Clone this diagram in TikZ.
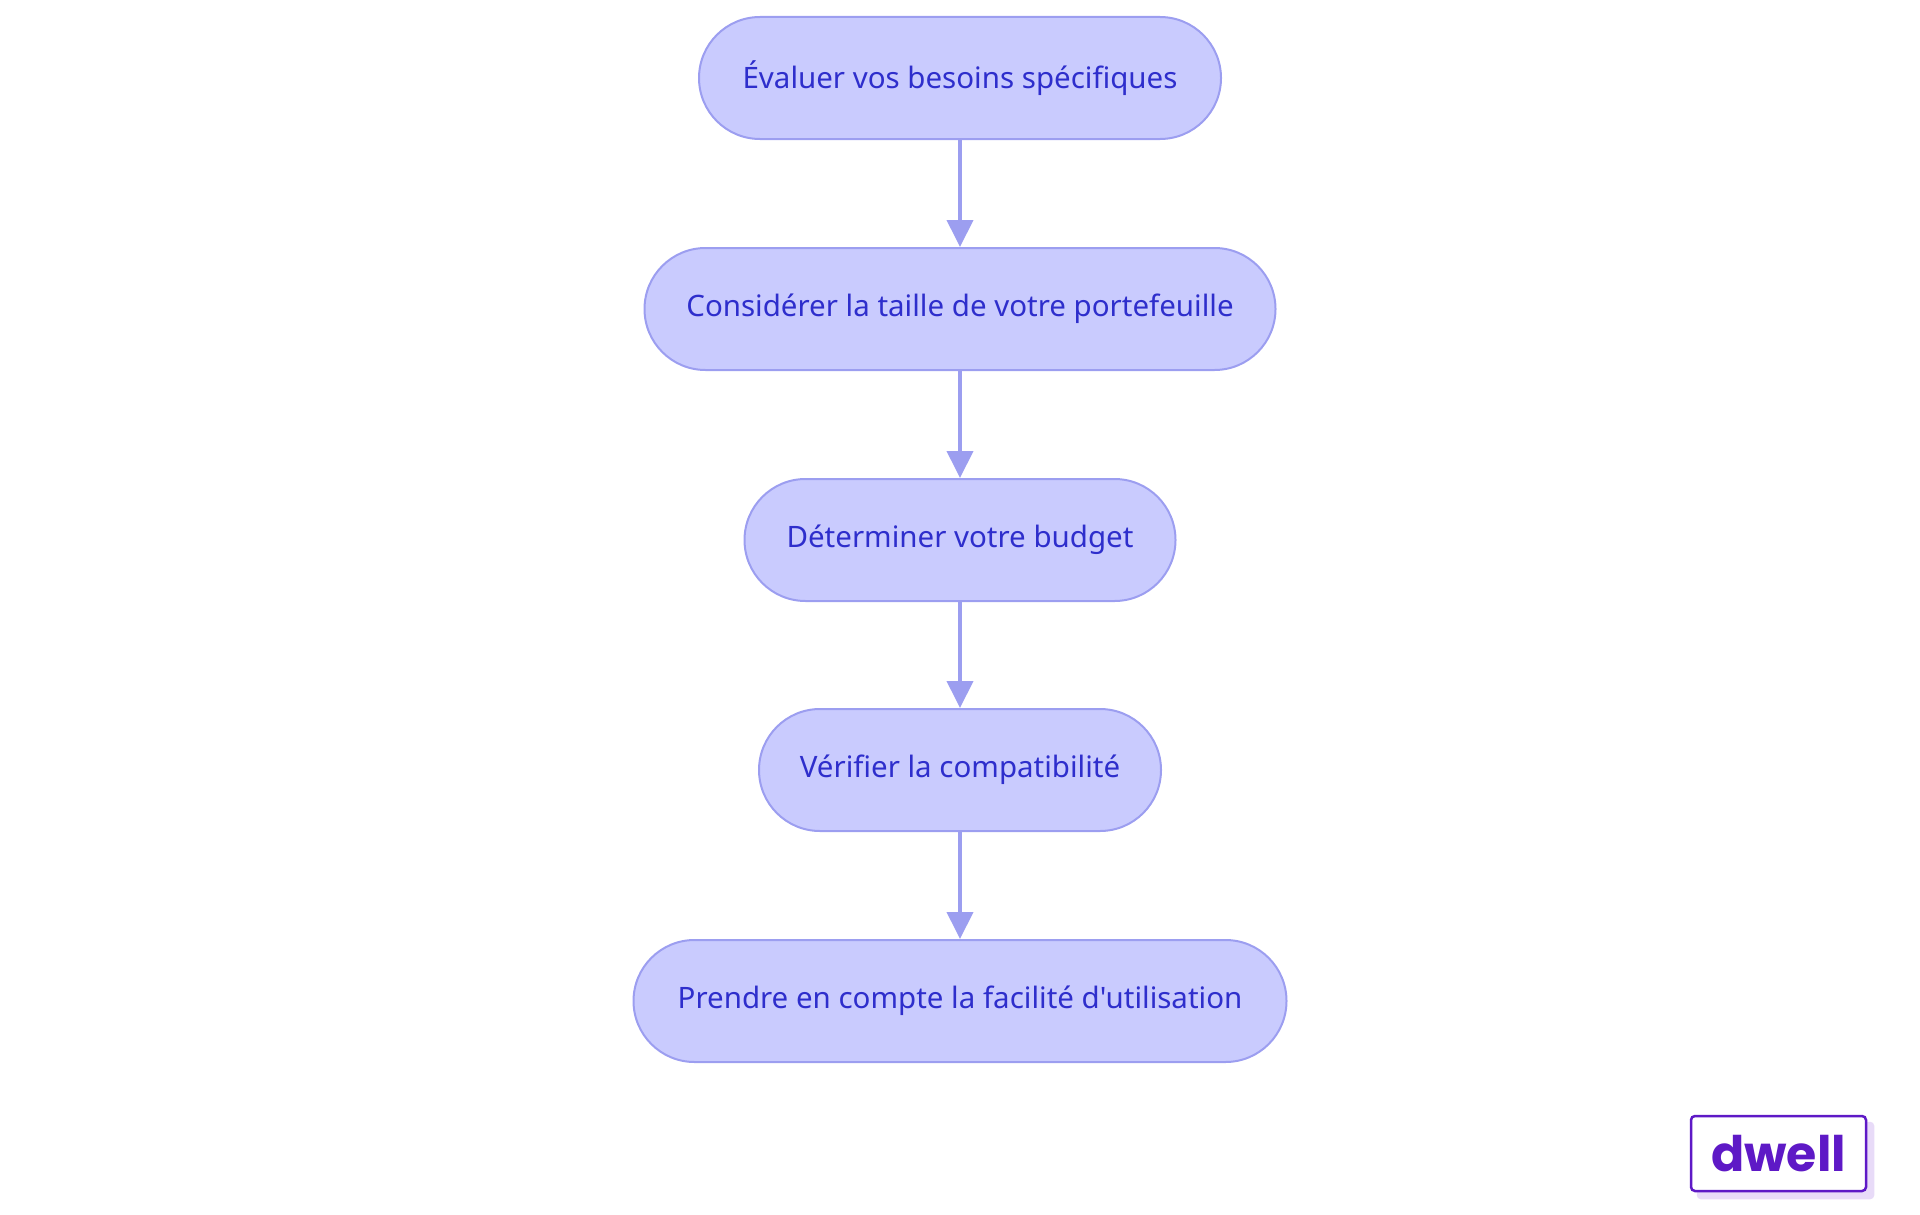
\documentclass[tikz,border=0pt]{standalone}
\usepackage{fontspec}
\setmainfont{Noto Sans}[Ligatures=TeXOff]
\newfontfamily\logofont{Poppins}
\usetikzlibrary{arrows.meta,backgrounds}
\definecolor{nodefill}{HTML}{C9CBFE}
\definecolor{nodeline}{HTML}{9C9EF0}
\definecolor{nodetext}{HTML}{2E2ECC}
\definecolor{logocol}{HTML}{5E19C6}
\definecolor{logoshadow}{HTML}{E8DBF8}
\begin{document}
\begin{tikzpicture}[x=1pt,y=-1pt,
  stepbox/.style={draw=nodeline, fill=nodefill, line width=2pt, rounded corners=61pt,
    minimum height=122pt, minimum width=#1, inner sep=0pt, text=nodetext,
    font=\fontsize{29.5}{34}\selectfont},
  flowarrow/.style={draw=nodeline, line width=4pt, -{Triangle[width=26pt,length=27pt]}},
  logobox/.style={draw=logocol, fill=white, line width=2.5pt, rounded corners=4pt,
    minimum width=175pt, minimum height=75pt, inner sep=0pt, text=logocol,
    font=\logofont\bfseries\fontsize{49}{56}\selectfont}]
\useasboundingbox (0,0) rectangle (1920,1215);
\node[stepbox=522pt] (n1) at (960,78) {Évaluer vos besoins spécifiques};
\node[stepbox=631pt] (n2) at (960,309) {Considérer la taille de votre portefeuille};
\node[stepbox=431pt] (n3) at (960,540) {Déterminer votre budget};
\node[stepbox=402pt] (n4) at (960,770) {Vérifier la compatibilité};
\node[stepbox=653pt] (n5) at (960,1001) {Prendre en compte la facilité d'utilisation};
\draw[flowarrow] (n1.south) -- (n2.north);
\draw[flowarrow] (n2.south) -- (n3.north);
\draw[flowarrow] (n3.south) -- (n4.north);
\draw[flowarrow] (n4.south) -- (n5.north);
\node[logobox] (logo) at (1778.5,1153.5) {dwell};
\begin{scope}[on background layer]
\fill[logoshadow, rounded corners=4pt] ([shift={(7,7)}]logo.south west) rectangle ([shift={(7,7)}]logo.north east);
\end{scope}
\end{tikzpicture}
\end{document}
